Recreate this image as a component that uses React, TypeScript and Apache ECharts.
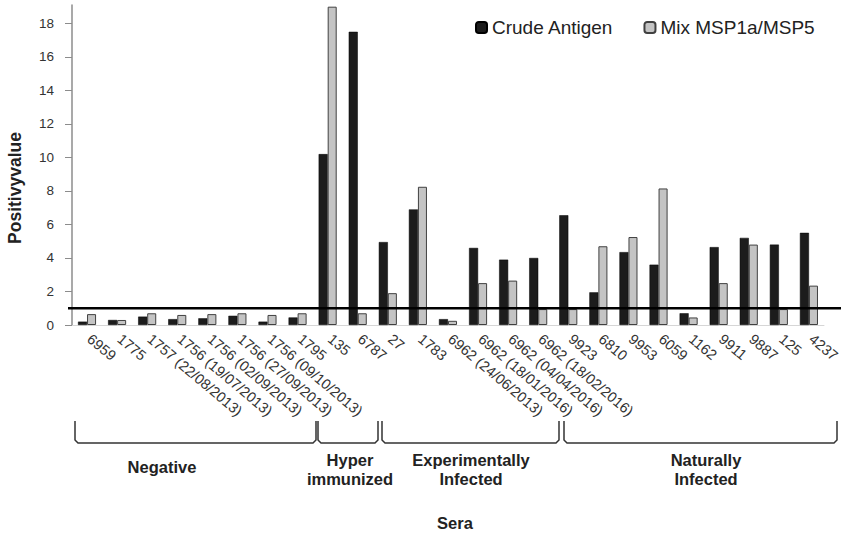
import React, { useEffect, useRef } from "react";
import * as echarts from "echarts";

const categories = [
  "6959",
  "1775",
  "1757 (22/08/2013)",
  "1756 (19/07/2013)",
  "1756 (02/09/2013)",
  "1756 (27/09/2013)",
  "1756 (09/10/2013)",
  "1795",
  "135",
  "6787",
  "27",
  "1783",
  "6962 (24/06/2013)",
  "6962 (18/01/2016)",
  "6962 (04/04/2016)",
  "6962 (18/02/2016)",
  "9923",
  "6810",
  "9953",
  "6059",
  "1162",
  "9911",
  "9887",
  "125",
  "4237",
];

const crudeAntigen = [
  0.2, 0.3, 0.5, 0.35, 0.4, 0.55, 0.2, 0.45,
  10.2, 17.5,
  4.95, 6.9, 0.35, 4.6, 3.9, 4.0,
  6.55, 1.95, 4.35, 3.6, 0.7, 4.65, 5.2, 4.8, 5.5,
];

const mixMSP = [
  0.65, 0.3, 0.7, 0.6, 0.65, 0.7, 0.6, 0.7,
  19.0, 0.7,
  1.9, 8.25, 0.25, 2.5, 2.65, 0.95,
  0.95, 4.7, 5.25, 8.15, 0.45, 2.5, 4.8, 0.95, 2.35,
];

const yTicks = [0, 2, 4, 6, 8, 10, 12, 14, 16, 18];
const threshold = 1;

const groupLabels = ["Negative", "Hyper\nimmunized", "Experimentally\nInfected", "Naturally\nInfected"];
// bracket extents (pixel layout)
const groupBrackets = [
  [75, 316, 162],
  [318, 378, 350],
  [382, 559, 471],
  [564, 837, 706],
];

export default function App() {
  const ref = useRef<HTMLDivElement>(null);

  useEffect(() => {
    if (!ref.current) return;
    document.body.style.margin = "0";
    const chart = echarts.init(ref.current, null, { renderer: "svg" });
    const font = "Arial, 'Liberation Sans', sans-serif";

    chart.setOption({
      animation: false,
      backgroundColor: "#ffffff",
      textStyle: { fontFamily: font },
      grid: { left: 72, right: 15, top: 5, bottom: 209, containLabel: false },
      legend: {
        left: 470,
        top: 13,
        itemWidth: 11,
        itemHeight: 11,
        itemGap: 30,
        textStyle: { fontSize: 19, color: "#222", fontFamily: font },
        data: ["Crude Antigen", "Mix MSP1a/MSP5"],
      },
      xAxis: {
        type: "category",
        data: categories,
        axisLine: { show: true, lineStyle: { color: "#d6d6d6", width: 1 } },
        axisTick: { show: false },
        axisLabel: {
          interval: 0,
          rotate: -40,
          fontSize: 14.5,
          color: "#333",
          margin: 10,
          padding: [0, 0, 0, 3],
          fontFamily: font,
        },
      },
      yAxis: {
        type: "value",
        min: 0,
        max: 19.1,
        interval: 2,
        splitLine: { show: false },
        axisLine: { show: true, lineStyle: { color: "#8c8c8c", width: 1.5 } },
        axisTick: { show: true, length: 7, inside: false, lineStyle: { color: "#8c8c8c" }, customValues: yTicks },
        axisLabel: { fontSize: 13.5, color: "#333", margin: 18, fontFamily: font, customValues: yTicks },
      },
      series: [
        {
          name: "Crude Antigen",
          type: "bar",
          data: crudeAntigen,
          barGap: "0%",
          barCategoryGap: "40%",
          itemStyle: { color: "#1c1c1c", borderColor: "#000", borderWidth: 0.5 },
        },
        {
          name: "Mix MSP1a/MSP5",
          type: "bar",
          data: mixMSP,
          itemStyle: { color: "#c4c4c4", borderColor: "#404040", borderWidth: 1 },
        },
      ],
    });

    const yLine = chart.convertToPixel({ yAxisIndex: 0 }, threshold) as number;

    const graphics: any[] = [
      {
        type: "line",
        shape: { x1: 68, y1: yLine, x2: 841, y2: yLine },
        style: { stroke: "#000", lineWidth: 2.5 },
        z: 100,
      },
      {
        type: "text",
        x: 15,
        y: 188,
        rotation: Math.PI / 2,
        style: {
          text: "Positivyvalue",
          fontSize: 17.5,
          fontWeight: "bold",
          fontFamily: font,
          fill: "#222",
          align: "center",
          verticalAlign: "middle",
        },
      },
      {
        type: "text",
        x: 455,
        y: 523,
        style: {
          text: "Sera",
          fontSize: 16.5,
          fontWeight: "bold",
          fontFamily: font,
          fill: "#222",
          align: "center",
          verticalAlign: "middle",
        },
      },
    ];

    groupBrackets.forEach(([x1, x2, cx], i) => {
      graphics.push({
        type: "polyline",
        shape: {
          points: [
            [x1, 421],
            [x1, 440],
            [x1 + 3, 443],
            [x2 - 3, 443],
            [x2, 440],
            [x2, 421],
          ],
        },
        style: { stroke: "#333", lineWidth: 1.5, fill: null },
      });
      const lines = groupLabels[i].split("\n");
      graphics.push({
        type: "text",
        x: cx,
        y: lines.length === 1 ? 467 : 469,
        style: {
          text: groupLabels[i],
          fontSize: 16.5,
          fontWeight: "bold",
          fontFamily: font,
          fill: "#222",
          align: "center",
          verticalAlign: "middle",
          lineHeight: 19,
        },
      });
    });

    chart.setOption({ graphic: graphics });

    return () => chart.dispose();
  }, []);

  return <div ref={ref} style={{ width: 843, height: 534 }} />;
}
